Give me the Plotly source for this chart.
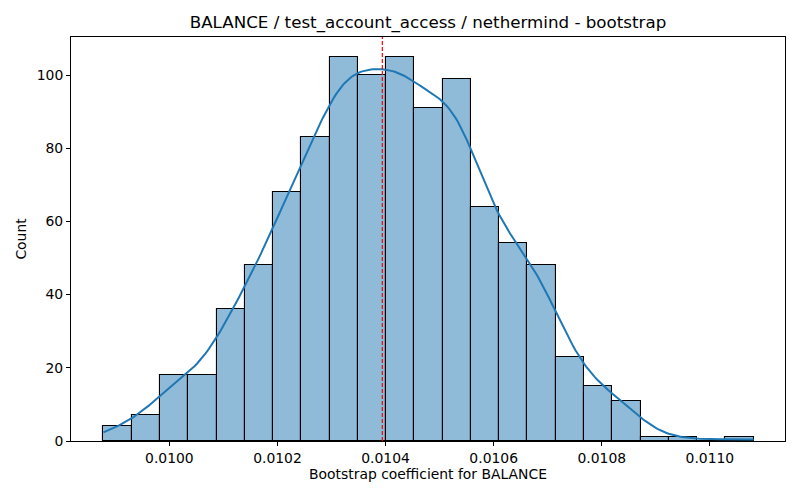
import numpy as np
import plotly.graph_objects as go

# histogram counts of bootstrap coefficients (23 equal bins)
counts = [4, 7, 18, 18, 36, 48, 68, 83, 105, 100, 105, 91, 99,
          64, 54, 48, 23, 15, 11, 1, 1, 0, 1]
bin_start = 0.009878
bin_width = 0.0000523
point_estimate = 0.010394

x_ticks = [0.0100, 0.0102, 0.0104, 0.0106, 0.0108, 0.0110]
y_ticks = [0, 20, 40, 60, 80, 100]

edges = bin_start + bin_width * np.arange(len(counts) + 1)
centers = (edges[:-1] + edges[1:]) / 2
counts_arr = np.array(counts, dtype=float)

# KDE like seaborn (gaussian, scott bandwidth) from the binned data
n = counts_arr.sum()
mean = np.sum(centers * counts_arr) / n
std = np.sqrt(np.sum(counts_arr * (centers - mean) ** 2) / (n - 1))
bw = 0.92 * std * n ** (-1 / 5)
grid = np.linspace(edges[0], edges[-1], 300)
dens = np.zeros_like(grid)
for c, w in zip(centers, counts_arr):
    dens += w * np.exp(-0.5 * ((grid - c) / bw) ** 2)
dens = dens / (n * bw * np.sqrt(2 * np.pi))
kde_counts = dens * n * bin_width

fig = go.Figure()
fig.add_trace(go.Bar(
    x=centers, y=counts, width=bin_width,
    marker=dict(color="rgba(31,119,180,0.5)", line=dict(color="black", width=1.1)),
    showlegend=False,
))
fig.add_trace(go.Scatter(
    x=grid, y=kde_counts, mode="lines",
    line=dict(color="#1f77b4", width=2), showlegend=False,
))
fig.add_shape(type="line", x0=point_estimate, x1=point_estimate, y0=0, y1=1,
              xref="x", yref="paper",
              line=dict(color="red", width=1.2, dash="4px,2px"))

axis_common = dict(
    showgrid=False, zeroline=False, showline=True, linecolor="black", linewidth=1,
    mirror=True, ticks="outside", ticklen=4, tickcolor="black", automargin=False,
    tickfont=dict(size=13.9, color="black"),
)
# page body adds an 8px offset, margins compensate for it
fig.update_layout(
    width=800, height=500,
    paper_bgcolor="white", plot_bgcolor="white",
    font=dict(family="DejaVu Sans", color="black"),
    margin=dict(l=63, r=23, t=29, b=67),
    bargap=0,
    title=dict(text="BALANCE / test_account_access / nethermind - bootstrap",
               x=0.525, xanchor="center", y=0.972, yanchor="middle",
               font=dict(size=16.7, color="black")),
    xaxis=dict(axis_common, range=[0.009818, 0.011139], tickvals=x_ticks,
               ticktext=[f"{t:.4f}" for t in x_ticks],
               title=dict(text="Bootstrap coefficient for BALANCE", font=dict(size=13.9), standoff=3)),
    yaxis=dict(axis_common, range=[0, 110.4], tickvals=y_ticks,
               title=dict(text="Count", font=dict(size=13.9), standoff=6)),
)

fig.write_html("out.html")
